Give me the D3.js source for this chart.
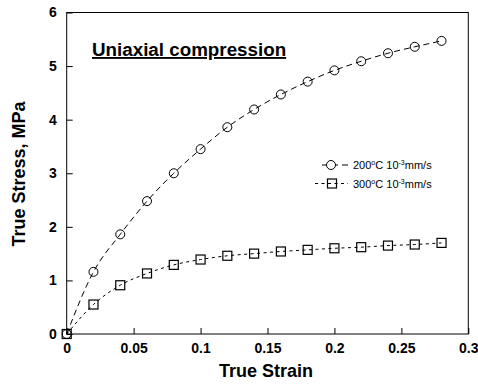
<!DOCTYPE html>
<html>
<head>
<meta charset="utf-8">
<script src="https://cdn.jsdelivr.net/npm/d3@7"></script>
<style>
  body { margin: 0; background: #fff; }
  svg { display: block; font-family: "Liberation Sans", Arial, sans-serif; }
</style>
</head>
<body>
<svg id="chart" width="478" height="388"></svg>
<script>
const strain = [0, 0.02, 0.04, 0.06, 0.08, 0.1, 0.12, 0.14, 0.16, 0.18, 0.2, 0.22, 0.24, 0.26, 0.28];
const stress200 = [0, 1.16, 1.86, 2.48, 3.0, 3.45, 3.86, 4.19, 4.47, 4.71, 4.92, 5.09, 5.24, 5.36, 5.47];
const stress300 = [0, 0.55, 0.91, 1.13, 1.29, 1.39, 1.46, 1.50, 1.54, 1.57, 1.60, 1.62, 1.65, 1.67, 1.70];
const xTicks = [0, 0.05, 0.1, 0.15, 0.2, 0.25, 0.3];
const yTicks = [0, 1, 2, 3, 4, 5, 6];

const svg = d3.select("#chart");
const plotLeft = 66.7, plotRight = 468.3, plotTop = 12.5, plotBottom = 334;

const x = d3.scaleLinear().domain([0, 0.3]).range([plotLeft, plotRight]);
const y = d3.scaleLinear().domain([0, 6]).range([plotBottom, plotTop]);

// frame
svg.append("rect")
    .attr("x", plotLeft).attr("y", plotTop)
    .attr("width", plotRight - plotLeft).attr("height", plotBottom - plotTop)
    .attr("fill", "none").attr("stroke", "#000").attr("stroke-width", 1);

const xAxis = svg.append("g")
    .attr("transform", `translate(0,${plotBottom})`)
    .call(d3.axisBottom(x).tickValues(xTicks).tickSizeInner(-6).tickSizeOuter(0).tickPadding(9)
        .tickFormat(d => String(d)));
xAxis.select(".domain").remove();
xAxis.selectAll("text").style("font-size", "14px").style("font-weight", "bold")
    .style("font-family", "'Liberation Sans', Arial, sans-serif").attr("fill", "#000");

const yAxis = svg.append("g")
    .attr("transform", `translate(${plotLeft},0)`)
    .call(d3.axisLeft(y).tickValues(yTicks).tickSizeInner(-6).tickSizeOuter(0).tickPadding(10)
        .tickFormat(d => String(d)));
yAxis.select(".domain").remove();
yAxis.selectAll("text").style("font-size", "14px").style("font-weight", "bold")
    .style("font-family", "'Liberation Sans', Arial, sans-serif").attr("fill", "#000");

// axis titles
svg.append("text")
    .attr("x", 266).attr("y", 377)
    .attr("text-anchor", "middle")
    .style("font-size", "18px").style("font-weight", "bold")
    .text("True Strain");

svg.append("text")
    .attr("transform", "translate(25,174) rotate(-90)")
    .attr("text-anchor", "middle")
    .style("font-size", "18px").style("font-weight", "bold")
    .text("True Stress, MPa");

// title
svg.append("text")
    .attr("x", 92).attr("y", 56)
    .style("font-size", "18.8px").style("font-weight", "bold")
    .style("text-decoration", "underline")
    .text("Uniaxial compression");

const line = d3.line().x(d => x(d[0])).y(d => y(d[1])).curve(d3.curveMonotoneX);

const series = [
    { values: stress200, dash: "6,4", marker: "circle", label: "200" },
    { values: stress300, dash: "3,3.5", marker: "square", label: "300" }
];

series.forEach(s => {
    const pts = strain.map((v, i) => [v, s.values[i]]);
    svg.append("path")
        .datum(pts)
        .attr("fill", "none").attr("stroke", "#000").attr("stroke-width", 1)
        .attr("stroke-dasharray", s.dash)
        .attr("d", line);

    if (s.marker === "circle") {
        svg.selectAll(null).data(pts).enter().append("circle")
            .attr("cx", d => x(d[0])).attr("cy", d => y(d[1])).attr("r", 4.5)
            .attr("fill", "none").attr("stroke", "#000").attr("stroke-width", 1);
    } else {
        svg.selectAll(null).data(pts).enter().append("rect")
            .attr("x", d => x(d[0]) - 4.5).attr("y", d => y(d[1]) - 4.5)
            .attr("width", 9).attr("height", 9)
            .attr("fill", "none").attr("stroke", "#000").attr("stroke-width", 1.2);
    }
});

// legend
const legend = svg.append("g");
series.forEach((s, i) => {
    const ly = 165 + i * 18.5;
    const x0 = s.marker === "circle" ? 322 : 315;
    legend.append("line")
        .attr("x1", x0).attr("x2", 348).attr("y1", ly).attr("y2", ly)
        .attr("stroke", "#000").attr("stroke-width", 1).attr("stroke-dasharray", s.dash);
    if (s.marker === "circle") {
        legend.append("circle").attr("cx", 331).attr("cy", ly).attr("r", 4.5)
            .attr("fill", "#fff").attr("stroke", "#000");
    } else {
        legend.append("rect").attr("x", 327.5).attr("y", ly - 4.5).attr("width", 9).attr("height", 9)
            .attr("fill", "none").attr("stroke", "#000").attr("stroke-width", 1.2);
    }
    const t = legend.append("text").attr("x", 353).attr("y", ly + 4).style("font-size", "11px");
    t.append("tspan").text(s.label);
    t.append("tspan").attr("dy", -4).style("font-size", "7px").text("o");
    t.append("tspan").attr("dy", 4).text("C 10");
    t.append("tspan").attr("dy", -4).style("font-size", "7px").text("-3");
    t.append("tspan").attr("dy", 4).text("mm/s");
});
</script>
</body>
</html>
